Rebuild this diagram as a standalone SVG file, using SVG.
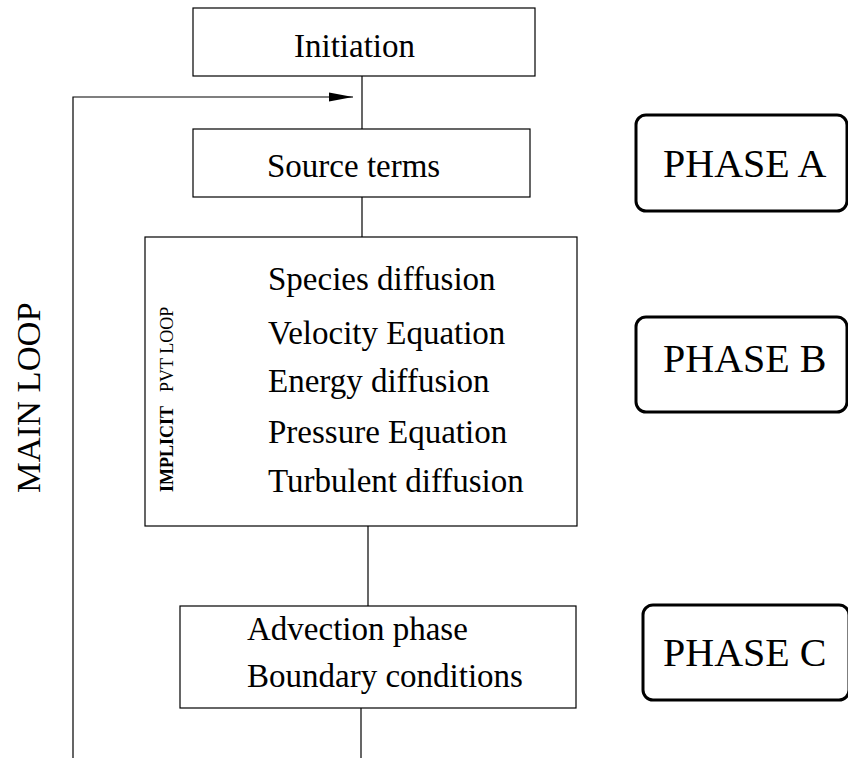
<svg xmlns="http://www.w3.org/2000/svg" width="848" height="758" viewBox="0 0 848 758">
<style>
text{font-family:"Liberation Serif","Times New Roman",serif;fill:#000}
.t{font-size:33px}
.ph{font-size:40px}
.box{fill:#fff;stroke:#000;stroke-width:1.2}
.phase{fill:#fff;stroke:#000;stroke-width:3}
.ln{fill:none;stroke:#000;stroke-width:1.2}
</style>
<defs>
<marker id="ah" markerWidth="24" markerHeight="10" refX="24" refY="5" orient="auto" markerUnits="userSpaceOnUse">
<path d="M0,0.5 L24,5 L0,9.5 Z" fill="#000"/>
</marker>
<marker id="ah2" markerWidth="14" markerHeight="6" refX="14" refY="3" orient="auto" markerUnits="userSpaceOnUse">
<path d="M0,0.8 L14,3 L0,5.2 Z" fill="#000"/>
</marker>
</defs>
<rect width="848" height="758" fill="#fff"/>
<g id="connectors">
<line class="ln" x1="362" y1="76" x2="362" y2="129"/>
<line class="ln" x1="362" y1="197" x2="362" y2="237"/>
<line class="ln" x1="368" y1="526" x2="368" y2="606"/>
<line class="ln" x1="361" y1="708" x2="361" y2="758"/>
<polyline class="ln" points="73,758 73,97 353,97" marker-end="url(#ah)"/>
<polyline class="ln" points="253,439 193,439 193,338 253,338" marker-end="url(#ah2)"/>
</g>
<g id="initiation">
<rect class="box" x="193" y="8" width="342" height="68"/>
<text class="t" x="294" y="57">Initiation</text>
</g>
<g id="source-terms">
<rect class="box" x="193" y="129" width="337" height="68"/>
<text class="t" x="267" y="177">Source terms</text>
</g>
<g id="phase-b-block">
<rect class="box" x="145" y="237" width="432" height="289"/>
<text class="t" x="268" y="290">Species diffusion</text>
<text class="t" x="268" y="344">Velocity Equation</text>
<text class="t" x="268" y="392">Energy diffusion</text>
<text class="t" x="268" y="443">Pressure Equation</text>
<text class="t" x="268" y="492">Turbulent diffusion</text>
<text transform="translate(173,492) rotate(-90)" style="font-size:18px;font-weight:bold">IMPLICIT</text>
<text transform="translate(173,392) rotate(-90)" style="font-size:18px">PVT LOOP</text>
</g>
<g id="advection">
<rect class="box" x="180" y="606" width="396" height="102"/>
<text class="t" x="247" y="640">Advection phase</text>
<text class="t" x="247" y="687">Boundary conditions</text>
</g>
<g id="main-loop">
<text transform="translate(40,493) rotate(-90)" style="font-size:34.5px">MAIN LOOP</text>
</g>
<g id="phase-a">
<rect class="phase" x="636" y="115" width="211" height="96" rx="10"/>
<text class="ph" x="663" y="177">PHASE A</text>
</g>
<g id="phase-b">
<rect class="phase" x="636" y="317" width="211" height="95" rx="10"/>
<text class="ph" x="663" y="372">PHASE B</text>
</g>
<g id="phase-c">
<rect class="phase" x="643" y="605" width="206" height="95" rx="10"/>
<text class="ph" x="663" y="666">PHASE C</text>
</g>
</svg>
